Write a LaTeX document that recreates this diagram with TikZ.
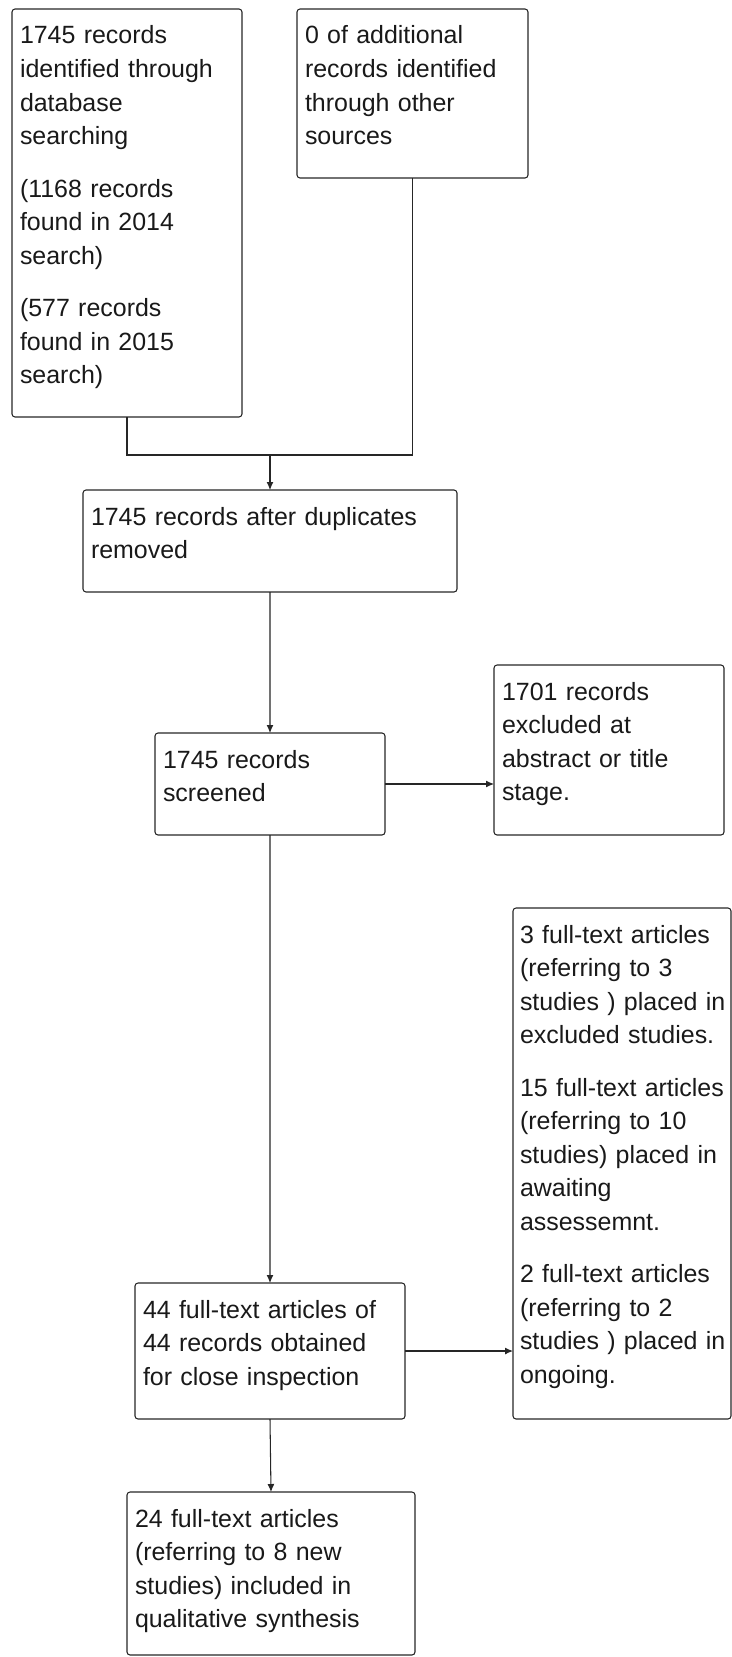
\documentclass[tikz,border=0pt]{standalone}
\usepackage{fontspec}
\setmainfont{Liberation Sans}
\usetikzlibrary{arrows.meta}

\begin{document}
\begin{tikzpicture}[
    box/.style={draw=black!85, line width=0.6pt, rounded corners=0.06cm, anchor=north west,
        align=left, inner xsep=0.16cm, inner ysep=0.2cm, outer sep=0pt, text height=0.5cm,
        font=\fontsize{14.2pt}{19.07pt}\selectfont, text=black!90},
    link/.style={draw=black!85, line width=0.6pt},
    arrow/.style={link, -{Latex[length=0.16cm, width=0.14cm]}}
]
    \useasboundingbox (0,0) rectangle (14.64,-33.14);

    % --- Identification ---
    \node[box, text width=4.28cm, text depth=7.26cm] (dbase) at (0.24,-0.18)
        {1745 records\\identified through\\database\\searching\\[0.38cm]
         (1168 records\\found in 2014\\search)\\[0.38cm]
         (577 records\\found in 2015\\search)};
    \node[box, text width=4.30cm, text depth=2.48cm] (other) at (5.94,-0.18)
        {0 of additional\\records identified\\through other\\sources};

    % --- Screening ---
    \node[box, text width=7.16cm, text depth=1.14cm] (dedup) at (1.66,-9.80)
        {1745 records after duplicates\\removed};
    \node[box, text width=4.28cm, text depth=1.14cm] (screen) at (3.10,-14.66)
        {1745 records\\screened};
    \node[box, text width=4.28cm, text depth=2.50cm] (excl) at (9.88,-13.30)
        {1701 records\\excluded at\\abstract or title\\stage.};

    % --- Eligibility ---
    \node[box, text width=5.08cm, text depth=1.82cm] (fulltext) at (2.70,-25.66)
        {44 full-text articles of\\44 records obtained\\for close inspection};
    \node[box, inner xsep=0.14cm, text width=4.08cm, text depth=9.32cm] (placed) at (10.26,-18.16)
        {3 full-text articles\\(referring to 3\\studies~)~placed~in\\excluded studies.\\[0.38cm]
         15 full-text articles\\(referring to 10\\studies) placed in\\awaiting\\assessemnt.\\[0.38cm]
         2 full-text articles\\(referring to 2\\studies~)~placed~in\\ongoing.};

    % --- Included ---
    \node[box, text width=5.44cm, text depth=2.36cm] (incl) at (2.54,-29.84)
        {24 full-text articles\\(referring to 8 new\\studies) included in\\qualitative synthesis};

    % --- Connectors ---
    \coordinate (join) at (dedup.north |- 0,-9.10);
    \draw[link] (dbase.south) |- (join) -| (other.south);
    \draw[arrow] (join) -- (dedup.north);
    \draw[arrow] (dedup.south) -- (screen.north);
    \draw[arrow] (screen.east) -- (screen.east -| excl.west);
    \draw[arrow] (screen.south) -- (fulltext.north);
    \draw[arrow] (fulltext.east) -- (fulltext.east -| placed.west);
    \draw[arrow] (fulltext.south) -- (incl.north);

\end{tikzpicture}
\end{document}
